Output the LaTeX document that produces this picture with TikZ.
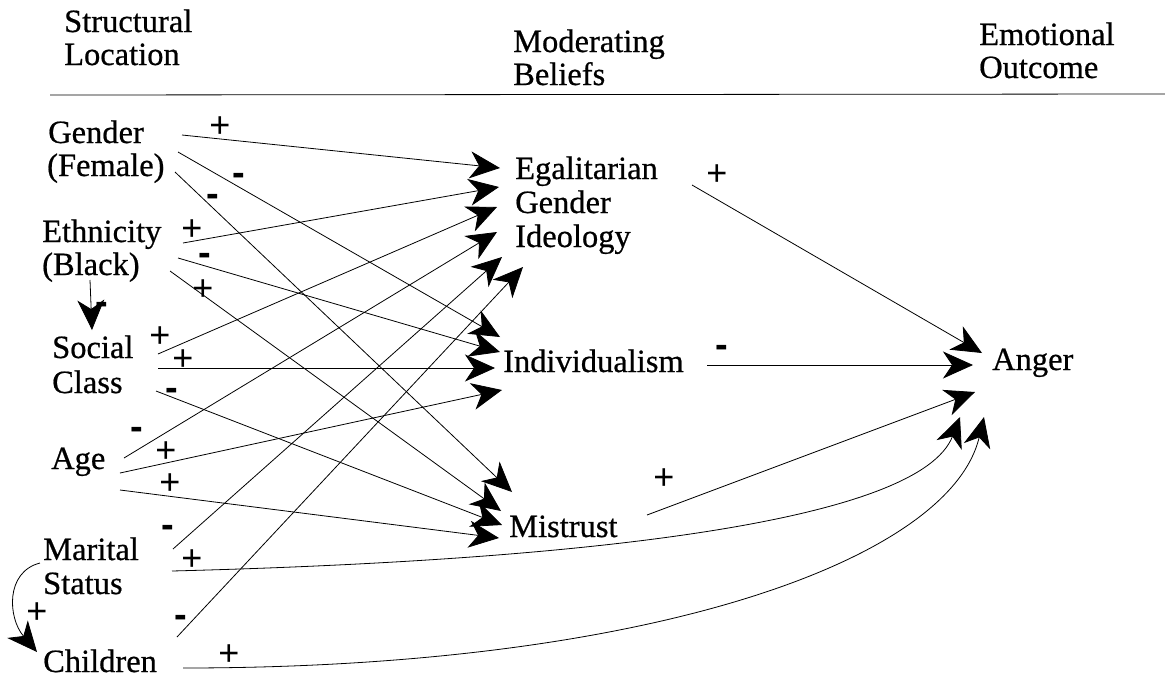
\documentclass[tikz,border=0pt]{standalone}
\usepackage{fontspec}
\setmainfont{Liberation Serif}[BoldFont={Liberation Serif},BoldFeatures={FakeBold=0.6}]
\newfontfamily\signfont{Liberation Sans}
\usetikzlibrary{arrows.meta}
\begin{document}
\begin{tikzpicture}[x=1pt,y=-1pt,
  lbl/.style={anchor=base west, inner sep=0pt, font=\bfseries\fontsize{32.5}{34}\selectfont},
  sgn/.style={inner sep=0pt, yshift=-2pt, font=\signfont\fontsize{36}{36}\selectfont},
  neg/.style={inner sep=0pt, yshift=-3.6pt, font=\signfont\bfseries\fontsize{38}{38}\selectfont},
  conn/.style={line width=0.8pt, -{Stealth[length=30pt,width=27pt,inset=9pt]}},
  rule/.style={line width=0.8pt}
]
\useasboundingbox (0,0) rectangle (1165,678);

% headers
\node[lbl] (h1a) at (64,32) {Structural};
\node[lbl] (h1b) at (64,65) {Location};
\node[lbl] (h2a) at (513,52) {Moderating};
\node[lbl] (h2b) at (513,85) {Beliefs};
\node[lbl] (h3a) at (979,45) {Emotional};
\node[lbl] (h3b) at (979,78) {Outcome};
\coordinate (ruleL) at (50,95);
\coordinate (ruleR) at (1165,94);
\draw[rule] (ruleL) -- (ruleR);

% left column
\node[lbl] (gender) at (48,143) {Gender};
\node[lbl] (female) at (47,176) {(Female)};
\node[lbl] (ethn) at (42,242) {Ethnicity};
\node[lbl] (black) at (42,275) {(Black)};
\node[lbl] (social) at (52,358) {Social};
\node[lbl] (class) at (52,393) {Class};
\node[lbl] (age) at (51,469) {Age};
\node[lbl] (marital) at (43,560) {Marital};
\node[lbl] (status) at (43,594) {Status};
\node[lbl] (children) at (43,672) {Children};

% middle column
\node[lbl] (egal1) at (515,179) {Egalitarian};
\node[lbl] (egal2) at (515,213) {Gender};
\node[lbl] (egal3) at (515,247) {Ideology};
\node[lbl] (indiv) at (503,372) {Individualism};
\node[lbl] (mistrust) at (509,537) {Mistrust};

% right
\node[lbl] (anger) at (992,370) {Anger};

% start points
\coordinate (sGE) at (182,135);
\coordinate (sGI) at (178,152);
\coordinate (sGM) at (175,172);
\coordinate (sEE) at (183,243);
\coordinate (sEI) at (178,258);
\coordinate (sEM) at (170,271);
\coordinate (sES) at (90,280);
\coordinate (sSE) at (158,354);
\coordinate (sSI) at (158,368);
\coordinate (sSM) at (156,391);
\coordinate (sAE) at (124,458);
\coordinate (sAI) at (120,473);
\coordinate (sAM) at (120,490);
\coordinate (sME) at (173,549);
\coordinate (sMA) at (172,571);
\coordinate (sMC) at (40,563);
\coordinate (sCE) at (177,637);
\coordinate (sCA) at (183,668);
\coordinate (sEgA) at (692,185);
\coordinate (sInA) at (707,365);
\coordinate (sMiA) at (647,515);

% end points (arrow tips)
\coordinate (tGE) at (500,168);
\coordinate (tEE) at (499,187);
\coordinate (tSE) at (497,207);
\coordinate (tAE) at (497,232);
\coordinate (tME) at (502,257);
\coordinate (tCE) at (523,267);
\coordinate (tGI) at (500,337);
\coordinate (tEI) at (500,352);
\coordinate (tSI) at (495,368);
\coordinate (tAI) at (502,390);
\coordinate (tGM) at (512,492);
\coordinate (tEM) at (501,511);
\coordinate (tSM) at (502,525);
\coordinate (tAM) at (499,538);
\coordinate (tES) at (92,330);
\coordinate (tMC) at (37,652);
\coordinate (tEgA) at (982,353);
\coordinate (tInA) at (973,365);
\coordinate (tMiA) at (975,392);
\coordinate (tMA) at (960,417);
\coordinate (tCA) at (984,417);

% connectors
\draw[conn] (sGE) -- (tGE);
\draw[conn] (sGI) -- (tGI);
\draw[conn] (sGM) -- (tGM);
\draw[conn] (sEE) -- (tEE);
\draw[conn] (sEI) -- (tEI);
\draw[conn] (sEM) -- (tEM);
\draw[conn] (sES) -- (tES);
\draw[conn] (sSE) -- (tSE);
\draw[conn] (sSI) -- (tSI);
\draw[conn] (sSM) -- (tSM);
\draw[conn] (sAE) -- (tAE);
\draw[conn] (sAI) -- (tAI);
\draw[conn] (sAM) -- (tAM);
\draw[conn] (sME) -- (tME);
\draw[conn] (sCE) -- (tCE);
\draw[conn] (sMC) .. controls (5,572) and (8,618) .. (tMC);
\draw[conn] (sMA) .. controls (600,560) and (920,520) .. (tMA);
\draw[conn] (sCA) .. controls (650,668) and (950,560) .. (tCA);
\draw[conn] (sEgA) -- (tEgA);
\draw[conn] (sInA) -- (tInA);
\draw[conn] (sMiA) -- (tMiA);

% signs
\node[sgn] (pGE) at (220,125) {+};
\node[neg] (pGI) at (239,176) {-};
\node[neg] (pGM) at (213,197) {-};
\node[sgn] (pEE) at (192,228) {+};
\node[neg] (pEI) at (205,256) {-};
\node[sgn] (pEM) at (203,288) {+};
\node[neg] (pES) at (102,305) {-};
\node[sgn] (pSE) at (160,335) {+};
\node[sgn] (pSI) at (183,358) {+};
\node[neg] (pSM) at (172,391) {-};
\node[neg] (pAE) at (137,430) {-};
\node[sgn] (pAI) at (166,450) {+};
\node[sgn] (pAM) at (170,482) {+};
\node[neg] (pME) at (168,528) {-};
\node[sgn] (pMA) at (192,558) {+};
\node[sgn] (pMC) at (37,611) {+};
\node[neg] (pCE) at (181,618) {-};
\node[sgn] (pCA) at (229,653) {+};
\node[sgn] (pEgA) at (717,173) {+};
\node[neg] (pInA) at (722,348) {-};
\node[sgn] (pMiA) at (664,477) {+};
\end{tikzpicture}
\end{document}
